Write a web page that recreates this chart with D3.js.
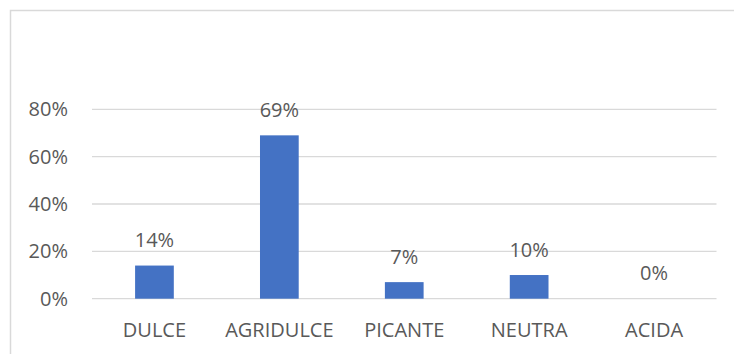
<!DOCTYPE html>
<html>
<head>
<meta charset="utf-8">
<script src="https://cdn.jsdelivr.net/npm/d3@7"></script>
<style>
  html, body { margin: 0; padding: 0; background: #fff; }
  svg { display: block; }
  text { font-family: "Open Sans", "Liberation Sans", sans-serif; fill: #595959; }
</style>
</head>
<body>
<svg id="chart" width="734" height="354"></svg>
<script>
// Sabor preferido (porcentaje de respuestas)
const categories = ["DULCE", "AGRIDULCE", "PICANTE", "NEUTRA", "ACIDA"];
const values = [14, 69, 7, 10, 0];
const yTicks = [0, 20, 40, 60, 80];

const width = 734, height = 354;
const plot = { left: 92, right: 716.5, top: 109.3, bottom: 298.7 };

const svg = d3.select("#chart");

// chart area frame
svg.append("rect")
  .attr("x", 10.5).attr("y", 10.5)
  .attr("width", width + 20).attr("height", height + 20)
  .attr("fill", "none")
  .attr("stroke", "#D9D9D9")
  .attr("stroke-width", 1.5);

const x = d3.scaleBand()
  .domain(categories)
  .range([plot.left, plot.right])
  .paddingInner(0.69)
  .paddingOuter(0.345);

const y = d3.scaleLinear()
  .domain([0, 80])
  .range([plot.bottom, plot.top]);

// horizontal gridlines
svg.append("g")
  .selectAll("line")
  .data(yTicks)
  .join("line")
  .attr("x1", plot.left).attr("x2", plot.right)
  .attr("y1", d => y(d)).attr("y2", d => y(d))
  .attr("stroke", "#D9D9D9")
  .attr("stroke-width", 1.3);

// y axis labels
const yAxis = d3.axisLeft(y)
  .tickValues(yTicks)
  .tickFormat(d => d + "%")
  .tickSize(0)
  .tickPadding(24);
const yg = svg.append("g")
  .attr("transform", `translate(${plot.left},0)`)
  .call(yAxis);
yg.select(".domain").remove();
yg.selectAll("text")
  .attr("font-size", 20)
  .attr("fill", "#595959")
  .attr("font-family", null);

// bars
svg.append("g")
  .selectAll("rect")
  .data(values)
  .join("rect")
  .attr("x", (d, i) => x(categories[i]))
  .attr("width", x.bandwidth())
  .attr("y", d => y(d))
  .attr("height", d => y(0) - y(d))
  .attr("fill", "#4472C4");

// value labels
svg.append("g")
  .selectAll("text")
  .data(values)
  .join("text")
  .attr("x", (d, i) => x(categories[i]) + x.bandwidth() / 2)
  .attr("y", d => y(d) - 18.5)
  .attr("text-anchor", "middle")
  .attr("font-size", 20)
  .text(d => d + "%");

// category labels
const xAxis = d3.axisBottom(x).tickSize(0).tickPadding(0);
const xg = svg.append("g")
  .attr("transform", `translate(0,${plot.bottom})`)
  .call(xAxis);
xg.select(".domain").remove();
xg.selectAll("text")
  .attr("font-size", 20)
  .attr("fill", "#595959")
  .attr("font-family", null)
  .attr("dy", null)
  .attr("y", 38);
</script>
</body>
</html>
